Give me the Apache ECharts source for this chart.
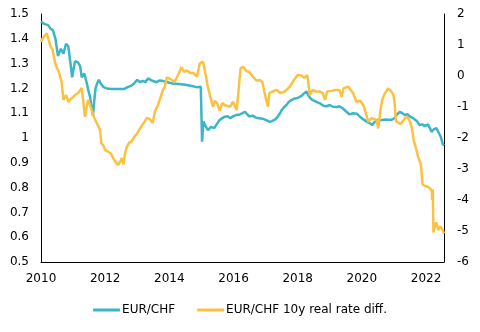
<!DOCTYPE html>
<html>
<head>
<meta charset="utf-8">
<script src="https://cdn.jsdelivr.net/npm/echarts@6/dist/echarts.min.js"></script>
<style>html,body{margin:0;padding:0;background:#fff}#c{width:480px;height:332px}</style>
</head>
<body>
<div id="c"></div>
<script>
// EUR/CHF (left axis)
var chfYears = [2010.00,2010.10,2010.22,2010.30,2010.37,2010.45,2010.53,2010.62,2010.70,2010.78,2010.85,2010.92,2010.97,2011.06,2011.15,2011.22,2011.27,2011.35,2011.43,2011.48,2011.53,2011.58,2011.62,2011.66,2011.70,2011.75,2011.80,2011.86,2011.95,2012.05,2012.20,2012.40,2012.60,2012.70,2012.80,2012.90,2013.00,2013.08,2013.18,2013.26,2013.33,2013.45,2013.60,2013.70,2013.80,2013.95,2014.10,2014.30,2014.50,2014.70,2014.85,2014.98,2015.02,2015.06,2015.12,2015.20,2015.30,2015.40,2015.50,2015.57,2015.65,2015.73,2015.82,2015.90,2016.00,2016.10,2016.20,2016.28,2016.36,2016.43,2016.50,2016.60,2016.70,2016.80,2016.90,2017.00,2017.13,2017.20,2017.30,2017.38,2017.45,2017.50,2017.58,2017.65,2017.72,2017.80,2017.88,2017.96,2018.05,2018.12,2018.20,2018.28,2018.35,2018.44,2018.52,2018.60,2018.69,2018.80,2018.90,2019.00,2019.10,2019.22,2019.30,2019.40,2019.52,2019.62,2019.73,2019.84,2019.94,2020.05,2020.15,2020.25,2020.32,2020.40,2020.50,2020.60,2020.72,2020.82,2020.92,2021.02,2021.10,2021.18,2021.26,2021.34,2021.42,2021.50,2021.60,2021.70,2021.80,2021.88,2021.96,2022.06,2022.12,2022.17,2022.24,2022.32,2022.40,2022.46,2022.52,2022.56];
var chfValues = [1.47,1.46,1.455,1.44,1.435,1.40,1.33,1.36,1.34,1.38,1.37,1.30,1.245,1.31,1.305,1.29,1.245,1.26,1.22,1.19,1.165,1.12,1.09,1.15,1.20,1.22,1.235,1.22,1.205,1.20,1.198,1.198,1.198,1.205,1.21,1.22,1.234,1.226,1.23,1.225,1.24,1.232,1.225,1.232,1.23,1.225,1.22,1.218,1.215,1.21,1.205,1.207,0.985,1.066,1.05,1.032,1.045,1.04,1.06,1.073,1.08,1.086,1.088,1.08,1.088,1.093,1.095,1.10,1.106,1.095,1.086,1.09,1.082,1.08,1.078,1.073,1.065,1.068,1.075,1.086,1.10,1.113,1.125,1.133,1.145,1.153,1.158,1.16,1.165,1.17,1.18,1.187,1.168,1.155,1.15,1.145,1.14,1.13,1.128,1.133,1.126,1.125,1.128,1.12,1.106,1.095,1.10,1.098,1.086,1.075,1.066,1.06,1.052,1.065,1.073,1.072,1.075,1.074,1.073,1.08,1.096,1.105,1.10,1.093,1.096,1.086,1.08,1.07,1.052,1.055,1.048,1.055,1.04,1.025,1.035,1.04,1.02,1.005,0.975,0.97];

// EUR/CHF 10y real rate differential (right axis)
var diffYears = [2010.00,2010.06,2010.12,2010.18,2010.24,2010.30,2010.36,2010.44,2010.50,2010.56,2010.64,2010.70,2010.78,2010.86,2010.92,2011.00,2011.08,2011.16,2011.27,2011.31,2011.37,2011.42,2011.47,2011.53,2011.58,2011.65,2011.72,2011.78,2011.84,2011.88,2011.95,2012.00,2012.10,2012.18,2012.25,2012.32,2012.40,2012.46,2012.52,2012.57,2012.62,2012.67,2012.75,2012.83,2012.90,2013.00,2013.08,2013.18,2013.30,2013.40,2013.48,2013.55,2013.62,2013.70,2013.80,2013.86,2013.92,2014.00,2014.08,2014.17,2014.28,2014.38,2014.46,2014.55,2014.65,2014.75,2014.86,2014.95,2015.05,2015.12,2015.20,2015.30,2015.36,2015.42,2015.50,2015.57,2015.65,2015.75,2015.90,2015.98,2016.10,2016.15,2016.22,2016.30,2016.40,2016.50,2016.60,2016.72,2016.82,2016.90,2016.98,2017.07,2017.12,2017.22,2017.35,2017.45,2017.60,2017.75,2017.90,2018.00,2018.10,2018.20,2018.30,2018.38,2018.46,2018.56,2018.69,2018.78,2018.85,2018.92,2019.05,2019.16,2019.30,2019.37,2019.43,2019.57,2019.65,2019.73,2019.83,2019.95,2020.05,2020.10,2020.20,2020.30,2020.46,2020.51,2020.58,2020.64,2020.72,2020.82,2020.92,2020.98,2021.02,2021.06,2021.12,2021.20,2021.28,2021.39,2021.47,2021.55,2021.62,2021.68,2021.75,2021.84,2021.89,2021.97,2022.05,2022.12,2022.18,2022.19,2022.21,2022.23,2022.28,2022.32,2022.38,2022.44,2022.50,2022.56];
var diffValues = [1.10,1.23,1.30,1.38,1.16,0.95,0.85,0.42,0.25,0.12,-0.19,-0.77,-0.62,-0.84,-0.75,-0.68,-0.60,-0.55,-0.39,-0.77,-1.32,-1.0,-0.77,-0.95,-1.0,-1.32,-1.48,-1.60,-1.74,-2.16,-2.25,-2.39,-2.45,-2.5,-2.65,-2.77,-2.87,-2.78,-2.65,-2.85,-2.5,-2.3,-2.15,-2.1,-1.97,-1.85,-1.70,-1.55,-1.35,-1.40,-1.52,-1.15,-1.0,-0.77,-0.45,-0.35,-0.05,-0.08,-0.13,-0.18,0.05,0.29,0.13,0.18,0.10,0.10,-0.02,0.41,0.46,0.10,-0.35,-0.77,-0.99,-0.80,-0.90,-1.12,-0.87,-0.95,-0.99,-0.83,-1.10,-0.55,0.25,0.30,0.16,0.12,-0.02,-0.15,-0.13,-0.20,-0.60,-0.99,-0.55,-0.50,-0.45,-0.55,-0.50,-0.35,-0.10,0.03,0.02,-0.06,0.03,-0.62,-0.45,-0.50,-0.50,-0.55,-0.77,-0.50,-0.48,-0.45,-0.45,-0.67,-0.40,-0.34,-0.45,-0.56,-0.83,-0.80,-0.95,-1.10,-1.47,-1.36,-1.42,-1.69,-1.10,-0.75,-0.56,-0.40,-0.50,-0.60,-0.85,-1.45,-1.40,-1.55,-1.45,-1.31,-1.40,-1.63,-2.10,-2.30,-2.60,-2.85,-3.50,-3.55,-3.57,-3.62,-3.70,-4.00,-3.65,-5.05,-4.85,-4.72,-4.97,-4.85,-4.92,-5.08];

var seriesNames = ['EUR/CHF', 'EUR/CHF 10y real rate diff.'];
var xTickYears = [2010, 2012, 2014, 2016, 2018, 2020, 2022];

function pairs(xs, ys) { return xs.map(function (x, i) { return [x, ys[i]]; }); }

var font = 'DejaVu Sans';
var chart = echarts.init(document.getElementById('c'), null, {renderer: 'canvas'});
chart.setOption({
  animation: false,
  backgroundColor: '#ffffff',
  textStyle: {fontFamily: font},
  grid: {left: 41, right: 36, top: 14, bottom: 70},
  legend: {
    bottom: 11,
    left: 'center',
    itemGap: 22,
    itemWidth: 27,
    itemHeight: 3,
    icon: 'roundRect',
    textStyle: {fontFamily: font, fontSize: 12, color: '#000', padding: [0, 0, 0, -3]},
    data: seriesNames
  },
  xAxis: {
    type: 'value',
    min: 2010,
    max: 2022.56,
    interval: 2,
    splitLine: {show: false},
    axisTick: {show: false},
    axisLine: {onZero: false, lineStyle: {color: '#000', width: 1}},
    axisLabel: {
      color: '#000', fontFamily: font, fontSize: 12, margin: 11,
      formatter: function (v) {
        var r = Math.round(v);
        return (Math.abs(v - r) < 1e-6 && xTickYears.indexOf(r) >= 0) ? String(r) : '';
      }
    }
  },
  yAxis: [{
    type: 'value',
    min: 0.5, max: 1.5, interval: 0.1,
    splitLine: {show: false},
    axisTick: {show: false},
    axisLine: {show: true, onZero: false, lineStyle: {color: '#000', width: 1}},
    axisLabel: {color: '#000', fontFamily: font, fontSize: 12, margin: 12,
      formatter: function (v) { return String(Math.round(v * 10) / 10); }}
  }, {
    type: 'value',
    position: 'right',
    min: -6, max: 2, interval: 1,
    splitLine: {show: false},
    axisTick: {show: false},
    axisLine: {show: true, onZero: false, lineStyle: {color: '#000', width: 1}},
    axisLabel: {color: '#000', fontFamily: font, fontSize: 12, margin: 13}
  }],
  series: [{
    name: seriesNames[0],
    type: 'line',
    yAxisIndex: 0,
    symbol: 'none',
    z: 2,
    lineStyle: {width: 2.5, color: '#3BB6C6'},
    itemStyle: {color: '#3BB6C6'},
    data: pairs(chfYears, chfValues)
  }, {
    name: seriesNames[1],
    type: 'line',
    yAxisIndex: 1,
    symbol: 'none',
    z: 3,
    lineStyle: {width: 2.5, color: '#FDC141'},
    itemStyle: {color: '#FDC141'},
    data: pairs(diffYears, diffValues)
  }]
});
</script>
</body>
</html>
